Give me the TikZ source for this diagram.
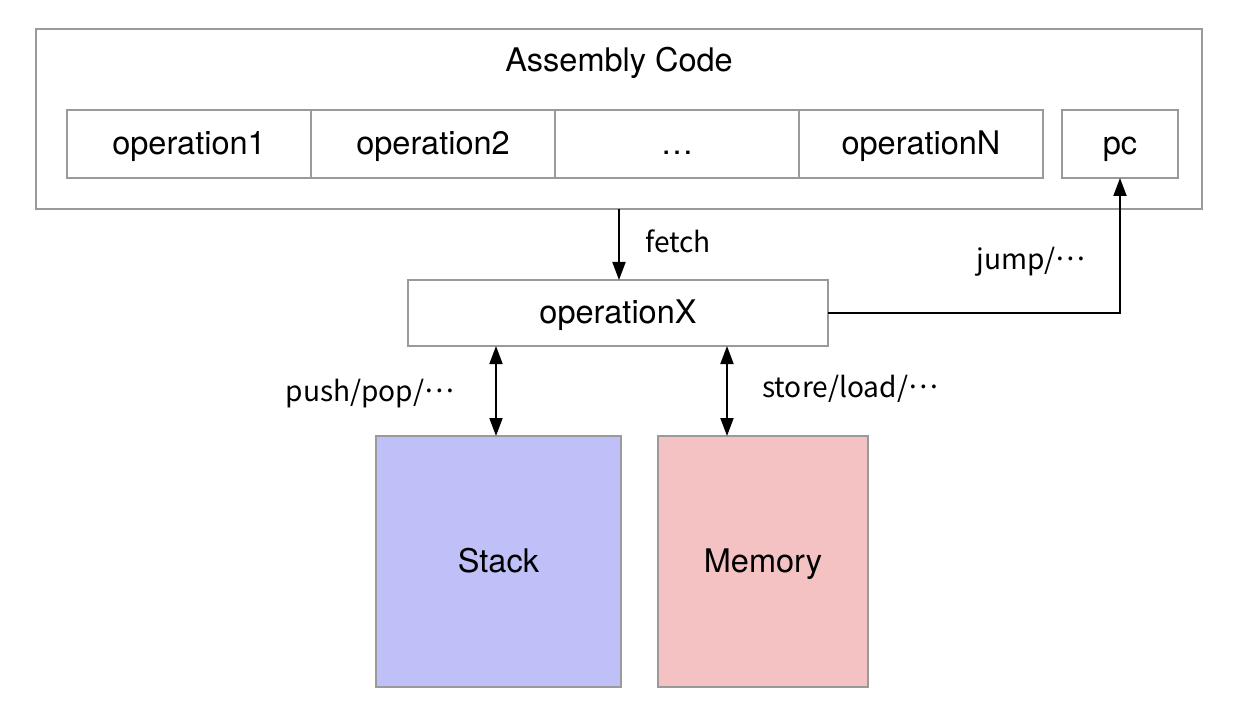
\documentclass[tikz,border=0pt]{standalone}
\usepackage{fontspec}
\setmainfont{TeX Gyre Heros}
\newfontfamily\lblfont{Noto Sans CJK KR}
\usepackage{tikz}
\usetikzlibrary{arrows.meta, positioning, calc}
\definecolor{boxgray}{RGB}{154, 154, 154}
\definecolor{stackblue}{RGB}{191, 192, 248}
\definecolor{memred}{RGB}{244, 194, 194}
\newcommand{\mdots}{\raisebox{0.32em}{…}}

\begin{document}
\begin{tikzpicture}[
  bx/.style = {
    draw=boxgray, line width=1.1pt, inner sep=0pt, outer sep=0pt,
    text height=15pt, text depth=3pt,
    align=center, font=\fontsize{18.5}{22}\selectfont
  },
  op/.style = { bx, minimum width=4.88cm, minimum height=1.36cm },
  lbl/.style = { font=\lblfont\fontsize{16}{20}\selectfont },
  arr/.style = { -{Triangle[length=0.36cm, width=0.26cm]}, line width=1.1pt },
  dbl/.style = { {Triangle[length=0.36cm, width=0.26cm]}-{Triangle[length=0.36cm, width=0.26cm]}, line width=1.1pt }
]
\useasboundingbox (0,0) rectangle (24.88,-14.12);

% code area
\node[bx, minimum width=23.32cm, minimum height=3.6cm] (code) at (12.38,-2.38) {};
\node[bx, draw=none] (title) at (12.38,-1.22) {Assembly Code};
\node[op] (op1) at (3.78,-2.88) {operation1};
\node[op, right=0pt of op1] (op2) {operation2};
\node[op, right=0pt of op2] (op3) {\ldots};
\node[op, right=0pt of op3] (opN) {operationN};
\node[bx, minimum width=2.32cm, minimum height=1.36cm] (pc) at (22.4,-2.88) {pc};

% current operation
\node[bx, minimum width=8.4cm, minimum height=1.32cm] (opX) at (12.36,-6.26) {operationX};

% storage
\node[bx, fill=stackblue, minimum width=4.9cm, minimum height=5.02cm] (stack) at (9.97,-11.23) {Stack};
\node[bx, fill=memred, minimum width=4.2cm, minimum height=5.02cm] (mem) at (15.26,-11.23) {Memory};

% arrows
\draw[arr] (code.south) -- (code.south |- opX.north);
\draw[arr] (opX.east) -| (pc.south);
\draw[dbl] ([xshift=-2.44cm]opX.south) -- ([xshift=-2.44cm]opX.south |- stack.north);
\draw[dbl] ([xshift=2.18cm]opX.south) -- ([xshift=2.18cm]opX.south |- mem.north);

% labels
\node[lbl] (fetchlbl) at (13.56,-4.82) {fetch};
\node[lbl] (jumplbl) at (20.62,-5.24) {jump/\mdots};
\node[lbl] (pushlbl) at (7.4,-7.88) {push/pop/\mdots};
\node[lbl] (storelbl) at (17.0,-7.78) {store/load/\mdots};

\end{tikzpicture}
\end{document}
